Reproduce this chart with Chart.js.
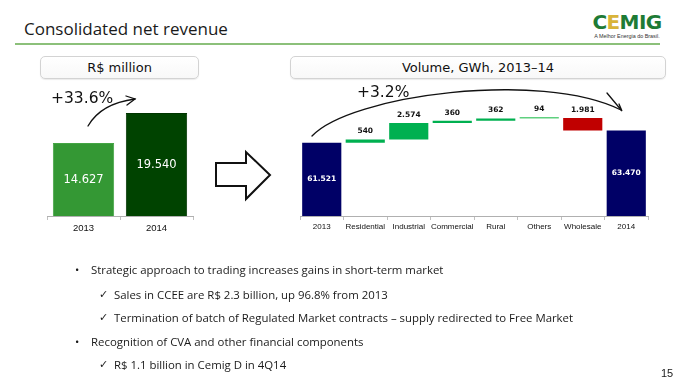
<!DOCTYPE html>
<html>
<head>
<meta charset="utf-8">
<script src="https://cdn.jsdelivr.net/npm/chart.js@4.4.1/dist/chart.umd.min.js"></script>
<style>
  html, body { margin: 0; padding: 0; background: #fff; }
  #page { position: relative; width: 689px; height: 388px; overflow: hidden; font-family: "Open Sans", sans-serif; color: #1a1a1a; }
  .abs { position: absolute; }
  #title { left: 24px; top: 17px; font-size: 17px; line-height: 24px; white-space: nowrap; }
  #rule { left: 15px; top: 43px; width: 645px; height: 2px; background: #8cc07a; }
  #logo { left: 589px; top: 12px; width: 76px; text-align: center; }
  #logo .mark { font-family: "DejaVu Sans"; font-weight: bold; font-size: 20px; line-height: 21px; color: #1e7b35; letter-spacing: -0.6px; }
  #logo .mark span { color: #d9b43a; }
  #logo .tag { font-family: "Liberation Sans"; font-size: 5.4px; line-height: 6px; color: #333; }
  .box { border: 1px solid #d3d3d3; border-radius: 5px; box-shadow: 0 1px 1px rgba(0,0,0,0.08); background: linear-gradient(#fff, #f8f8f8);
         font-family: "DejaVu Sans"; font-size: 13px; line-height: 21px; text-align: center; color: #111; }
  .bl { font-size: 11.4px; line-height: 16px; white-space: nowrap; }
  .ck { font-family: "DejaVu Sans"; font-size: 11px; }
  .pct { font-family: "DejaVu Sans"; font-size: 15.5px; line-height: 18px; color: #111; white-space: nowrap; }
  #pnum { left: 661px; top: 366px; font-family: "Liberation Sans"; font-size: 11px; line-height: 14px; }
  canvas { position: absolute; }
  svg { position: absolute; left: 0; top: 0; }
</style>
</head>
<body>
<div id="page">
  <div id="title" class="abs">Consolidated net revenue</div>
  <div id="rule" class="abs"></div>
  <div id="logo" class="abs"><div class="mark">C<span>E</span>MIG</div><div class="tag">A Melhor Energia do Brasil.</div></div>

  <div class="abs box" style="left:40px; top:56px; width:157px; height:21px;">R$ million</div>
  <div class="abs box" style="left:290px; top:56px; width:374px; height:21px;">Volume, GWh, 2013–14</div>

  <canvas id="revChart" width="160" height="150" style="left:40px; top:90px;"></canvas>
  <canvas id="volChart" width="370" height="160" style="left:290px; top:80px;"></canvas>

  <div class="abs pct" style="left:51px; top:89px;">+33.6%</div>
  <div class="abs pct" style="left:357px; top:83px;">+3.2%</div>

  <svg width="689" height="388">
    <g fill="none" stroke="#111" stroke-width="1.3" stroke-linecap="round">
      <path d="M88,126 C96,112 112,102 135,99" />
      <path d="M126,96 L135,99 L127,105" />
      <path d="M312,136 C350,95 540,70 621,110" />
      <path d="M607,93 L622,111 L619,104" />
    </g>
    <polygon points="216,163 246,163 246,152 270,175 246,199 246,186 216,186" fill="#fff" stroke="#111" stroke-width="2" />
  </svg>

  <div class="abs bl" style="left:75px; top:262px;">•</div>
  <div class="abs bl" style="left:91px; top:262px;">Strategic approach to trading increases gains in short-term market</div>
  <div class="abs bl ck" style="left:99px; top:287px;">✓</div>
  <div class="abs bl" style="left:114px; top:287px;">Sales in CCEE are R$ 2.3 billion, up 96.8% from 2013</div>
  <div class="abs bl ck" style="left:99px; top:310px;">✓</div>
  <div class="abs bl" style="left:114px; top:310px;">Termination of batch of Regulated Market contracts – supply redirected to Free Market</div>
  <div class="abs bl" style="left:75px; top:334px;">•</div>
  <div class="abs bl" style="left:91px; top:334px;">Recognition of CVA and other financial components</div>
  <div class="abs bl ck" style="left:99px; top:357px;">✓</div>
  <div class="abs bl" style="left:114px; top:357px;">R$ 1.1 billion in Cemig D in 4Q14</div>

  <div id="pnum" class="abs">15</div>
</div>

<script>
// net revenue, R$ million
const revYears = ['2013', '2014'];
const revValues = [14627, 19540];
const revColors = ['#349834', '#004300'];

// volume waterfall, GWh
const volCategories = ['2013', 'Residential', 'Industrial', 'Commercial', 'Rural', 'Others', 'Wholesale', '2014'];
const volStart = 61521;
const volChanges = [540, 2574, 360, 362, 94, -1981];
const volEnd = 63470;

function fmt(v) {
    return String(Math.abs(v)).replace(/\B(?=(\d{3})+(?!\d))/g, '.');
}

// fixed height for the category axis so the plot area lands where we want
function fixHeight(h) {
    return function (scale) { scale.height = h; };
}

// middle of the visible part of a bar (axis doesn't start at zero)
function visibleMid(chart, bar) {
    const bottom = Math.min(Math.max(bar.y, bar.base), chart.chartArea.bottom);
    const top = Math.min(bar.y, bar.base);
    return (top + bottom) / 2;
}

const revLabels = {
    id: 'revLabels',
    afterDatasetsDraw(chart) {
        const ctx = chart.ctx;
        const meta = chart.getDatasetMeta(0);
        ctx.save();
        ctx.font = '11.5px "DejaVu Sans"';
        ctx.fillStyle = '#fff';
        ctx.textAlign = 'center';
        ctx.textBaseline = 'middle';
        meta.data.forEach((bar, i) => {
            ctx.fillText(fmt(revValues[i]), bar.x, visibleMid(chart, bar));
        });
        ctx.restore();
    }
};

new Chart(document.getElementById('revChart'), {
    type: 'bar',
    data: {
        labels: revYears,
        datasets: [{
            data: revValues,
            backgroundColor: revColors,
            borderColor: ['#44a544', '#003500'],
            borderWidth: 1,
            barPercentage: 0.84,
            categoryPercentage: 1
        }]
    },
    options: {
        responsive: false,
        animation: false,
        devicePixelRatio: 1,
        layout: { padding: { left: 7, right: 7, top: 8, bottom: 0 } },
        plugins: { legend: { display: false }, tooltip: { enabled: false } },
        scales: {
            x: {
                afterFit: fixHeight(24),
                grid: { drawOnChartArea: false, tickLength: 4, tickColor: '#c0c0c0' },
                border: { color: '#b0b0b0' },
                ticks: { padding: 3, color: '#111', font: { family: 'Liberation Sans', size: 9.5 } }
            },
            y: { display: false, min: 2700, max: 22000 }
        }
    },
    plugins: [revLabels]
});

// build the waterfall: totals as plain values, steps as floating ranges
const volData = [volStart];
const volColors = ['#000066'];
let running = volStart;
volChanges.forEach(c => {
    volData.push([running, running + c]);
    volColors.push(c < 0 ? '#c00000' : (Math.abs(c) < 200 ? '#5fd07f' : '#00b050'));
    running += c;
});
volData.push(volEnd);
volColors.push('#000066');

const volLabels = {
    id: 'volLabels',
    afterDatasetsDraw(chart) {
        const ctx = chart.ctx;
        const meta = chart.getDatasetMeta(0);
        ctx.save();
        ctx.textAlign = 'center';
        ctx.textBaseline = 'middle';
        ctx.font = 'bold 7.5px "DejaVu Sans"';
        meta.data.forEach((bar, i) => {
            const last = i === meta.data.length - 1;
            if (i === 0 || last) {
                ctx.fillStyle = '#fff';
                ctx.fillText(fmt(i === 0 ? volStart : volEnd), bar.x, visibleMid(chart, bar));
            } else {
                ctx.fillStyle = '#111';
                ctx.fillText(fmt(volChanges[i - 1]), bar.x, Math.min(bar.y, bar.base) - 8);
            }
        });
        ctx.restore();
    }
};

new Chart(document.getElementById('volChart'), {
    type: 'bar',
    data: {
        labels: volCategories,
        datasets: [{
            data: volData,
            backgroundColor: volColors,
            borderColor: volColors,
            borderWidth: 0,
            minBarLength: 1.5,
            barPercentage: 0.9,
            categoryPercentage: 1
        }]
    },
    options: {
        responsive: false,
        animation: false,
        devicePixelRatio: 1,
        layout: { padding: { left: 10, right: 12, top: 9, bottom: 0 } },
        plugins: { legend: { display: false }, tooltip: { enabled: false } },
        scales: {
            x: {
                afterFit: fixHeight(24),
                grid: { drawOnChartArea: false, tickLength: 4, tickColor: '#c0c0c0' },
                border: { color: '#b0b0b0' },
                ticks: { padding: 2, color: '#111', maxRotation: 0, autoSkip: false, font: { family: 'Liberation Sans', size: 8 } }
            },
            y: { display: false, min: 50000, max: 70000 }
        }
    },
    plugins: [volLabels]
});
</script>
</body>
</html>
